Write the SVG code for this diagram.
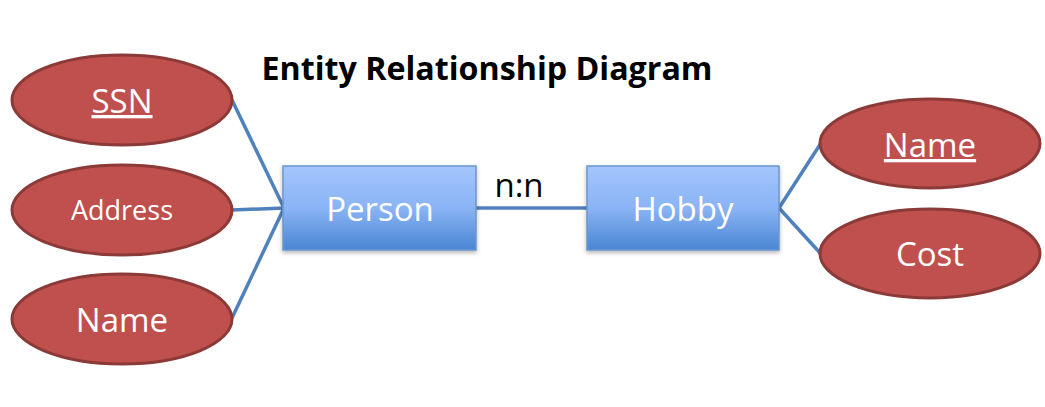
<svg xmlns="http://www.w3.org/2000/svg" width="1045" height="407" viewBox="0 0 1045 407">
<style>
.attr{fill:#C0504D;stroke:#8C3A38;stroke-width:3}
.ent{fill:url(#g);stroke:#6A96CE;stroke-width:1.5}
.lbl{font-family:"Open Sans","Liberation Sans",sans-serif;fill:#FFFFFF;text-anchor:middle}
.conn line{stroke:#4F81BD;stroke-width:3.5}
</style>
<defs>
<linearGradient id="g" x1="0" y1="0" x2="0" y2="1">
<stop offset="0" stop-color="#A3C5FD"/>
<stop offset="0.5" stop-color="#8AB4F5"/>
<stop offset="1" stop-color="#4A86D3"/>
</linearGradient>
<filter id="sh" x="-10%" y="-10%" width="125%" height="130%">
<feDropShadow dx="0" dy="2" stdDeviation="2" flood-color="#000" flood-opacity="0.3"/>
</filter>
</defs>
<rect width="1045" height="407" fill="#FFFFFF"/>
<text x="487" y="80" font-family="Open Sans,Liberation Sans,sans-serif" font-weight="bold" font-size="32" text-anchor="middle" fill="#000" textLength="451" lengthAdjust="spacingAndGlyphs">Entity Relationship Diagram</text>
<g class="conn">
<line x1="232" y1="100" x2="284" y2="208"/>
<line x1="232" y1="210" x2="284" y2="208"/>
<line x1="232" y1="318" x2="284" y2="208"/>
<line x1="476" y1="208" x2="587" y2="208"/>
<line x1="779" y1="208" x2="821" y2="143"/>
<line x1="779" y1="208" x2="821" y2="254"/>
</g>
<g id="ssn"><ellipse class="attr" cx="122" cy="100" rx="110" ry="45"/><text class="lbl" x="122" y="113" font-size="33" text-decoration="underline">SSN</text></g>
<g id="address"><ellipse class="attr" cx="122" cy="210" rx="110" ry="45"/><text class="lbl" x="122" y="220" font-size="27">Address</text></g>
<g id="name-left"><ellipse class="attr" cx="122" cy="319" rx="110" ry="45"/><text class="lbl" x="122" y="332" font-size="33">Name</text></g>
<g id="person"><rect class="ent" x="283" y="166" width="193" height="84" filter="url(#sh)"/><text class="lbl" x="380" y="221" font-size="33">Person</text></g>
<g id="rel"><text x="519" y="197" font-family="Open Sans,Liberation Sans,sans-serif" font-size="33" text-anchor="middle" fill="#000">n:n</text></g>
<g id="hobby"><rect class="ent" x="587" y="166" width="192" height="84" filter="url(#sh)"/><text class="lbl" x="683" y="221" font-size="33">Hobby</text></g>
<g id="name-right"><ellipse class="attr" cx="930" cy="143.5" rx="110" ry="44.5"/><text class="lbl" x="930" y="157" font-size="33" text-decoration="underline">Name</text></g>
<g id="cost"><ellipse class="attr" cx="930" cy="253.5" rx="110" ry="44.5"/><text class="lbl" x="930" y="266" font-size="33">Cost</text></g>
</svg>
